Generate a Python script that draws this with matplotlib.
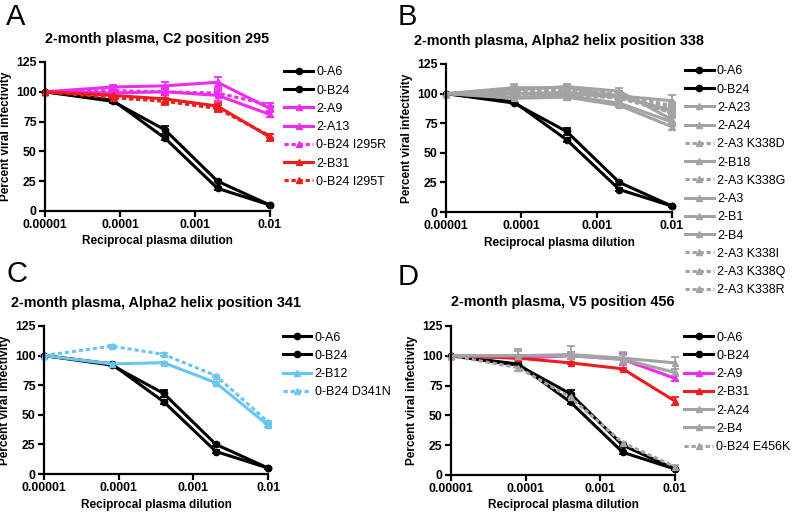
import numpy as np
import matplotlib
matplotlib.use("Agg")
import matplotlib.pyplot as plt
from matplotlib.ticker import FixedLocator, NullLocator

plt.rcParams['font.family'] = ['Liberation Sans', 'DejaVu Sans']

# dilution points (x)
dilution = [0.00001, 0.00008, 0.0004, 0.002, 0.01]
x_ticks = [0.00001, 0.0001, 0.001, 0.01]
x_tick_labels = ['0.00001', '0.0001', '0.001', '0.01']
y_ticks = [0, 25, 50, 75, 100, 125]

# shared controls
a6 = [100, 93, 61, 19, 5]
a6_err = [0, 1, 1.5, 1, 0.8]
b24 = [100, 92, 68, 25, 5]
b24_err = [0, 1, 3, 1, 1]

# panel A
a9 = [100, 99, 100, 97, 81]
a9_err = [0, 2, 3, 5, 2]
a13 = [100, 104, 105, 108, 86]
a13_err = [0, 1.5, 3, 4, 2]
i295r = [100, 101, 100, 99, 89]
i295r_err = [0, 1, 2, 2, 2]
b31 = [100, 97, 94, 88, 62]
b31_err = [0, 2, 3, 3, 3]
i295t = [100, 95, 92, 86, 63]
i295t_err = [0, 1, 3, 3, 2]

# panel B (gray series)
b_labels = ['2-A23', '2-A24', '2-A3 K338D', '2-B18', '2-A3 K338G', '2-A3',
            '2-B1', '2-B4', '2-A3 K338I', '2-A3 K338Q', '2-A3 K338R']
b_dashed = [False, False, True, False, True, False, False, False, True, True, True]
b_values = [
    [100, 105, 105, 98, 85],
    [100, 100, 101, 98, 94],
    [100, 101, 100, 97, 88],
    [100, 96, 97, 90, 72],
    [100, 98, 99, 96, 84],
    [100, 103, 106, 102, 78],
    [100, 97, 98, 92, 76],
    [100, 100, 100, 97, 86],
    [100, 102, 102, 99, 90],
    [100, 99, 101, 96, 87],
    [100, 103, 103, 100, 83],
]
b_err = [
    [0, 3, 2, 2, 4],
    [0, 2, 2, 2, 5],
    [0, 2, 2, 2, 3],
    [0, 2, 2, 1, 3],
    [0, 2, 2, 2, 3],
    [0, 3, 2, 3, 5],
    [0, 2, 2, 2, 3],
    [0, 2, 2, 2, 3],
    [0, 2, 2, 2, 3],
    [0, 2, 2, 2, 3],
    [0, 2, 2, 2, 3],
]

# panel C
b12 = [100, 93, 94, 77, 41]
b12_err = [0, 2, 1, 1, 1]
d341n = [100, 108, 101, 83, 44]
d341n_err = [0, 1, 1, 1, 1]

# panel D
d_a9 = [100, 98, 100, 97, 81]
d_a9_err = [0, 2, 3, 5, 2]
d_b31 = [100, 98, 94, 89, 62]
d_b31_err = [0, 1, 1, 1, 3]
d_a24 = [100, 100, 101, 98, 94]
d_a24_err = [0, 6, 7, 5, 5]
d_b4 = [100, 100, 100, 97, 86]
d_b4_err = [0, 4, 3, 4, 3]
e456k = [100, 90, 65, 27, 7]
e456k_err = [0, 3, 2, 1, 1]

BLACK = '#000000'
MAGENTA = '#ee2bee'
RED = '#ee1c1c'
GRAY = '#a3a3a3'
BLUE = '#6ac6f0'
DASH = (0, (1.4, 0.9))


def draw(ax, y, err, color, marker, dashed, label, ms=4.5):
    ax.errorbar(dilution, y, yerr=err, color=color, marker=marker, ms=ms,
                lw=2.2, ls=DASH if dashed else '-', elinewidth=1.3,
                capsize=3, capthick=1.3, label=label, clip_on=False)


def style(ax, title):
    ax.set_xscale('log')
    ax.set_xlim(0.00001, 0.01)
    ax.set_ylim(0, 125)
    ax.xaxis.set_major_locator(FixedLocator(x_ticks))
    ax.xaxis.set_minor_locator(NullLocator())
    ax.set_xticklabels(x_tick_labels)
    ax.set_yticks(y_ticks)
    for s in ['top', 'right']:
        ax.spines[s].set_visible(False)
    for s in ['left', 'bottom']:
        ax.spines[s].set_linewidth(1.6)
    ax.tick_params(width=1.6, length=4, labelsize=8.8, pad=2)
    for t in ax.get_xticklabels() + ax.get_yticklabels():
        t.set_fontweight('bold')
    ax.set_xlabel('Reciprocal plasma dilution', fontsize=8.5, fontweight='bold', labelpad=3)
    ax.set_ylabel('Percent viral infectivity', fontsize=8.5, fontweight='bold', labelpad=3)
    ax.set_title(title, fontsize=10.4, fontweight='bold', pad=14)


def add_controls(ax):
    draw(ax, a6, a6_err, BLACK, 'o', False, '0-A6')
    draw(ax, b24, b24_err, BLACK, 'o', False, '0-B24')


def legend(ax, x, y):
    handles, labels = ax.get_legend_handles_labels()
    handles = [h[0] for h in handles]
    ax.legend(handles, labels, loc='upper left', bbox_to_anchor=(x, y),
              bbox_transform=fig.transFigure, frameon=False, fontsize=9,
              handlelength=2.3, handletextpad=0.25, labelspacing=0.5,
              numpoints=1, borderaxespad=0, borderpad=0)


fig = plt.figure(figsize=(7.92, 5.14), dpi=100)

axA = fig.add_axes([0.0568, 0.5895, 0.284, 0.2899])
add_controls(axA)
draw(axA, a9, a9_err, MAGENTA, '^', False, '2-A9')
draw(axA, a13, a13_err, MAGENTA, '^', False, '2-A13')
draw(axA, i295r, i295r_err, MAGENTA, '^', True, '0-B24 I295R')
draw(axA, b31, b31_err, RED, '^', False, '2-B31')
draw(axA, i295t, i295t_err, RED, '^', True, '0-B24 I295T')
style(axA, '2-month plasma, C2 position 295')
legend(axA, 0.359, 0.871)

axB = fig.add_axes([0.5631, 0.5875, 0.2854, 0.288])
add_controls(axB)
for vals, errs, dsh, lab in zip(b_values, b_err, b_dashed, b_labels):
    draw(axB, vals, errs, GRAY, '^', dsh, lab)
style(axB, '2-month plasma, Alpha2 helix position 338')
legend(axB, 0.865, 0.873)

axC = fig.add_axes([0.0556, 0.0778, 0.283, 0.288])
add_controls(axC)
draw(axC, b12, b12_err, BLUE, '^', False, '2-B12')
draw(axC, d341n, d341n_err, BLUE, '^', True, '0-B24 D341N')
style(axC, '2-month plasma, Alpha2 helix position 341')
legend(axC, 0.357, 0.355)

axD = fig.add_axes([0.5694, 0.0759, 0.2828, 0.29])
add_controls(axD)
draw(axD, d_a9, d_a9_err, MAGENTA, '^', False, '2-A9')
draw(axD, d_b31, d_b31_err, RED, '^', False, '2-B31')
draw(axD, d_a24, d_a24_err, GRAY, '^', False, '2-A24')
draw(axD, d_b4, d_b4_err, GRAY, '^', False, '2-B4')
draw(axD, e456k, e456k_err, GRAY, '^', True, '0-B24 E456K')
style(axD, '2-month plasma, V5 position 456')
legend(axD, 0.864, 0.355)

# panel letters
fig.text(0.008, 0.995, 'A', fontsize=21, va='top')
fig.text(0.502, 0.995, 'B', fontsize=21, va='top')
fig.text(0.008, 0.495, 'C', fontsize=21, va='top')
fig.text(0.502, 0.488, 'D', fontsize=21, va='top')

plt.savefig('out.png', dpi=100)
